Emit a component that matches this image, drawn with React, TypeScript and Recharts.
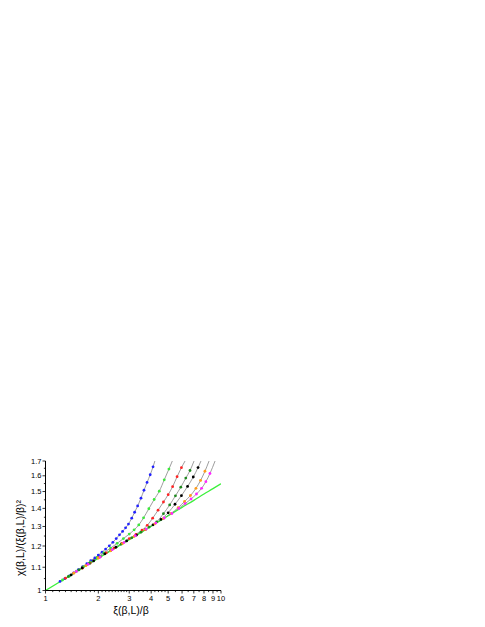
import React from 'react';
import { ComposedChart, Line, XAxis, YAxis } from 'recharts';

// ---- data ----
const limitX = [1, 1.5, 2, 3, 4, 5, 6, 7, 8, 9, 10];
const limitY = [1, 1.08, 1.141, 1.232, 1.301, 1.358, 1.406, 1.447, 1.485, 1.518, 1.549];

const blueX = [1.21, 1.29, 1.37, 1.45, 1.54, 1.63, 1.72, 1.81, 1.91, 2.0, 2.1, 2.2, 2.31, 2.42, 2.53, 2.64, 2.75, 2.86, 2.97, 3.1, 3.22, 3.35, 3.5, 3.64, 3.79, 3.95, 4.1];
const blueY = [1.038, 1.05, 1.062, 1.075, 1.089, 1.103, 1.116, 1.13, 1.143, 1.156, 1.17, 1.185, 1.201, 1.218, 1.237, 1.256, 1.274, 1.293, 1.313, 1.345, 1.378, 1.414, 1.46, 1.508, 1.557, 1.607, 1.66];
const blueFitEndX = 4.2;

const limeX = [1.25, 1.37, 1.5, 1.64, 1.8, 1.97, 2.15, 2.35, 2.56, 2.78, 3.0, 3.2, 3.4, 3.62, 3.88, 4.16, 4.45, 4.75, 5.05];
const limeY = [1.044, 1.061, 1.082, 1.102, 1.123, 1.145, 1.167, 1.19, 1.213, 1.237, 1.26, 1.282, 1.308, 1.347, 1.398, 1.452, 1.502, 1.574, 1.645];
const limeFitEndX = 5.28;

const redX = [1.3, 1.45, 1.62, 1.8, 2.0, 2.22, 2.46, 2.72, 3.0, 3.28, 3.55, 3.8, 4.08, 4.38, 4.7, 5.0, 5.3, 5.62, 5.95];
const redY = [1.052, 1.074, 1.096, 1.119, 1.143, 1.167, 1.19, 1.213, 1.237, 1.259, 1.281, 1.306, 1.345, 1.39, 1.437, 1.481, 1.53, 1.594, 1.654];
const redFitEndX = 6.24;

const dgX = [1.35, 1.55, 1.78, 2.05, 2.35, 2.7, 3.1, 3.5, 3.9, 4.3, 4.7, 5.1, 5.5, 5.9, 6.3, 6.66];
const dgY = [1.059, 1.088, 1.117, 1.148, 1.178, 1.209, 1.241, 1.27, 1.297, 1.325, 1.37, 1.42, 1.474, 1.527, 1.585, 1.635];
const dgFitEndX = 7.02;

const bkX = [1.4, 1.62, 1.88, 2.18, 2.52, 2.9, 3.3, 3.7, 4.1, 4.55, 5.0, 5.47, 5.95, 6.45, 6.95, 7.4];
const bkY = [1.066, 1.097, 1.129, 1.162, 1.194, 1.225, 1.255, 1.283, 1.309, 1.338, 1.375, 1.424, 1.475, 1.532, 1.592, 1.655];
const bkFitEndX = 7.69;

const orX = [1.45, 1.7, 2.0, 2.35, 2.75, 3.2, 3.7, 4.2, 4.7, 5.2, 5.7, 6.2, 6.7, 7.2, 7.65, 8.1];
const orY = [1.074, 1.107, 1.142, 1.177, 1.212, 1.248, 1.283, 1.314, 1.343, 1.372, 1.404, 1.44, 1.476, 1.52, 1.57, 1.63];
const orFitEndX = 8.55;

const mgX = [1.5, 1.75, 2.05, 2.4, 2.8, 3.25, 3.75, 4.25, 4.75, 5.25, 5.75, 6.25, 6.75, 7.25, 7.75, 8.2, 8.65];
const mgY = [1.081, 1.113, 1.147, 1.182, 1.217, 1.252, 1.286, 1.318, 1.346, 1.371, 1.4, 1.428, 1.455, 1.485, 1.52, 1.562, 1.615];
const mgFitEndX = 9.25;

const Y_MIN = 1;
const Y_MAX = 1.7;
const X_MIN = 1;
const X_MAX = 10;

const xMajorTicks = [1, 2, 3, 4, 5, 6, 7, 8, 9, 10];
const xMajorLabels = ['1', '2', '3', '4', '5', '6', '7', '8', '9', '10'];
const xMinorTicks = [1.1, 1.2, 1.3, 1.4, 1.5, 1.6, 1.7, 1.8, 1.9, 2.1, 2.2, 2.3, 2.4, 2.5, 2.6, 2.7, 2.8, 2.9, 3.2, 3.4, 3.6, 3.8, 4.2, 4.4, 4.6, 4.8, 5.5, 6.5, 7.5, 8.5, 9.5];
const yMajorTicks = [1, 1.1, 1.2, 1.3, 1.4, 1.5, 1.6, 1.7];
const yMajorLabels = ['1', '1.1', '1.2', '1.3', '1.4', '1.5', '1.6', '1.7'];
const yMinorTicks = [1.05, 1.15, 1.25, 1.35, 1.45, 1.55, 1.65];

const xTitle = 'ξ(β,L)/β';
const yTitle = 'χ(β,L)/(ξ(β,L)/β)²';

// ---- styling ----
const FONT = '"Liberation Sans", Arial, Helvetica, sans-serif';
const FIT_COLOR = '#858585';
const LIMIT_COLOR = '#3cf03c';

const series = [
  { key: 'blue', xs: blueX, ys: blueY, endX: blueFitEndX, color: '#2323ff' },
  { key: 'lime', xs: limeX, ys: limeY, endX: limeFitEndX, color: '#3be83b' },
  { key: 'red', xs: redX, ys: redY, endX: redFitEndX, color: '#ff2424' },
  { key: 'dgreen', xs: dgX, ys: dgY, endX: dgFitEndX, color: '#1f8a1f' },
  { key: 'black', xs: bkX, ys: bkY, endX: bkFitEndX, color: '#000000' },
  { key: 'orange', xs: orX, ys: orY, endX: orFitEndX, color: '#ff9c1a' },
  { key: 'magenta', xs: mgX, ys: mgY, endX: mgFitEndX, color: '#ff26ff' },
];

const toPoints = (xs: number[], ys: number[]) => xs.map((x, i) => ({ x, y: ys[i] }));
const limitData = toPoints(limitX, limitY);

const near = (a: number, b: number) => Math.abs(a - b) < 1e-6;

const XTick = (props: any) => {
  const { x, y, payload } = props;
  const v = payload.value as number;
  const idx = xMajorTicks.findIndex((t) => near(t, v));
  const major = idx >= 0;
  return (
    <g>
      <line x1={x} x2={x} y1={y} y2={y + (major ? 3 : 1.6)} stroke="#000" strokeWidth={0.8} />
      {major && (
        <text x={x} y={y + 10} textAnchor="middle" fontSize={7.5} fontFamily={FONT} fill="#000">
          {xMajorLabels[idx]}
        </text>
      )}
    </g>
  );
};

const YTick = (props: any) => {
  const { x, y, payload } = props;
  const v = payload.value as number;
  const idx = yMajorTicks.findIndex((t) => near(t, v));
  const major = idx >= 0;
  return (
    <g>
      <line x1={x} x2={x - (major ? 3 : 1.6)} y1={y} y2={y} stroke="#000" strokeWidth={0.8} />
      {major && (
        <text x={x - 4} y={y + 2.7} textAnchor="end" fontSize={7.5} fontFamily={FONT} fill="#000">
          {yMajorLabels[idx]}
        </text>
      )}
    </g>
  );
};

export default function App() {
  const W = 477;
  const H = 619;
  return (
    <div style={{ position: 'relative', width: W, height: H }}>
      <ComposedChart
        width={W}
        height={H}
        margin={{ top: 453, right: 264, bottom: 16.5, left: 0 }}
      >
        <XAxis
          dataKey="x"
          type="number"
          scale="log"
          domain={[X_MIN, X_MAX]}
          allowDataOverflow
          ticks={[...xMajorTicks, ...xMinorTicks]}
          interval={0}
          tickSize={0}
          tickMargin={0}
          tickLine={false}
          tick={<XTick />}
          axisLine={{ stroke: '#000', strokeWidth: 1 }}
          height={20}
        />
        <YAxis
          dataKey="y"
          type="number"
          scale="log"
          domain={[Y_MIN, Y_MAX]}
          allowDataOverflow
          ticks={[...yMajorTicks, ...yMinorTicks]}
          interval={0}
          tickSize={0}
          tickMargin={0}
          tickLine={false}
          tick={<YTick />}
          axisLine={{ stroke: '#000', strokeWidth: 1 }}
          width={37.5}
        />
        {series.map((s) => (
          <Line
            key={'fit-' + s.key}
            data={[...toPoints(s.xs, s.ys), { x: s.endX, y: Y_MAX }]}
            dataKey="y"
            type="monotone"
            stroke={FIT_COLOR}
            strokeWidth={0.8}
            dot={false}
            activeDot={false}
            isAnimationActive={false}
          />
        ))}
        <Line
          data={limitData}
          dataKey="y"
          type="monotone"
          stroke={LIMIT_COLOR}
          strokeWidth={1.3}
          dot={false}
          activeDot={false}
          isAnimationActive={false}
        />
        {series.map((s) => (
          <Line
            key={'pts-' + s.key}
            data={toPoints(s.xs, s.ys)}
            dataKey="y"
            stroke="none"
            dot={{ r: 1.4, fill: s.color, stroke: 'none' }}
            activeDot={false}
            isAnimationActive={false}
          />
        ))}
      </ComposedChart>
      <svg
        width={W}
        height={H}
        style={{ position: 'absolute', left: 0, top: 0, pointerEvents: 'none' }}
      >
        <text
          x={123}
          y={606}
          textAnchor="middle"
          fontSize={10.5}
          fontFamily={FONT}
          fill="#000"
        >
          {xTitle}
        </text>
        <text
          transform="translate(16,530) rotate(-90)"
          textAnchor="middle"
          fontSize={10.5}
          fontFamily={FONT}
          fill="#000"
        >
          {yTitle}
        </text>
      </svg>
    </div>
  );
}
